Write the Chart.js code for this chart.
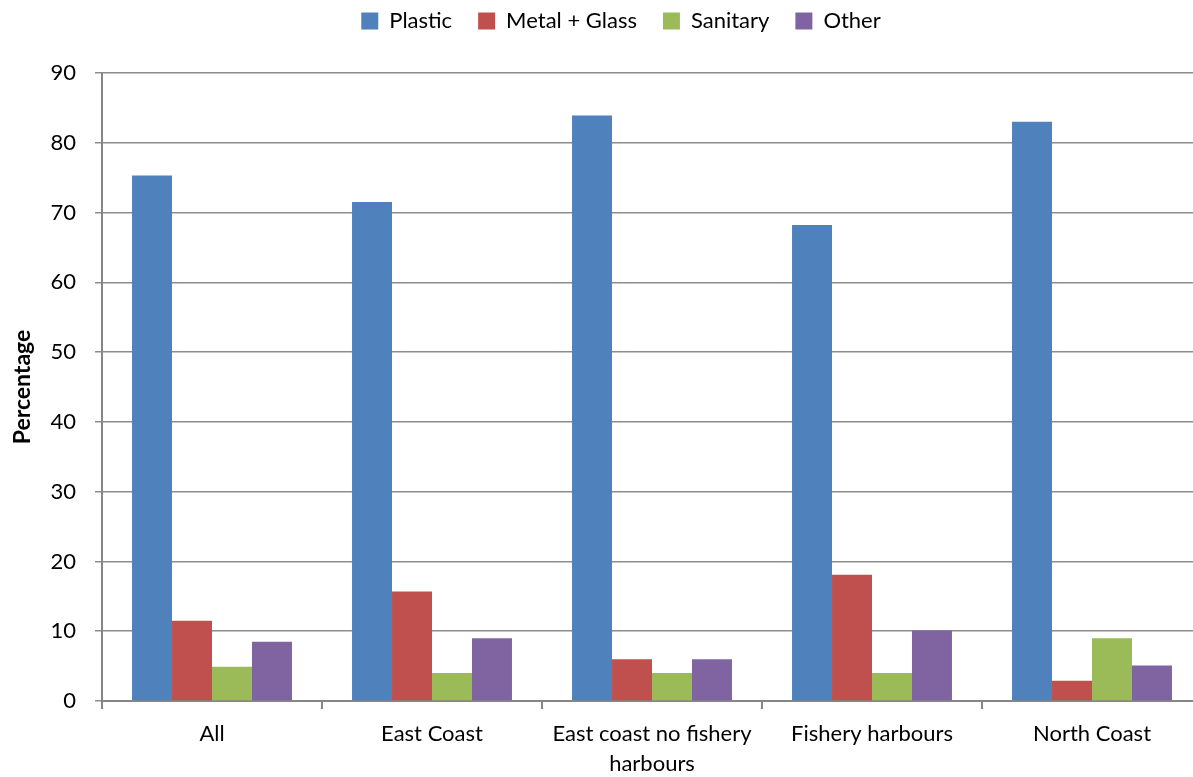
<!DOCTYPE html>
<html>
<head>
<meta charset="utf-8">
<script src="https://cdn.jsdelivr.net/npm/chart.js@4"></script>
<style>
  html, body { margin: 0; padding: 0; background: #fff; overflow: hidden; }
  #wrap { width: 1193px; height: 777px; overflow: hidden; position: relative; }
  canvas { display: block; }
</style>
</head>
<body>
<div id="wrap"><canvas id="c" width="1210" height="777"></canvas></div>
<script>
const categories = ["All", "East Coast", ["East coast no fishery", "harbours"], "Fishery harbours", "North Coast"];
const seriesNames = ["Plastic", "Metal + Glass", "Sanitary", "Other"];
const plastic = [75.3, 71.5, 83.9, 68.2, 83.0];
const metalGlass = [11.5, 15.7, 6.0, 18.1, 2.9];
const sanitary = [4.9, 4.0, 4.0, 4.0, 9.0];
const other = [8.5, 9.0, 6.0, 10.1, 5.1];
const yTicks = [0, 10, 20, 30, 40, 50, 60, 70, 80, 90];
const colors = ["#4F81BD", "#C0504D", "#9BBB59", "#8064A2"];

const FONT = "Lato, 'Open Sans', 'DejaVu Sans', sans-serif";
const seriesData = [plastic, metalGlass, sanitary, other];

const legendShift = {
  id: 'legendShift',
  beforeInit(chart) {
    const orig = chart.legend.fit;
    chart.legend.fit = function () { orig.call(this); this.height = 73; };
  },
  afterLayout(chart) {
    const d = 20;
    chart.legend.left += d; chart.legend.right += d;
    chart.legend.top -= 16; chart.legend.bottom -= 16;
  }
};

new Chart(document.getElementById('c'), {
  type: 'bar',
  data: {
    labels: categories,
    datasets: seriesNames.map((n, i) => ({
      label: n,
      data: seriesData[i],
      backgroundColor: colors[i],
      borderWidth: 0,
      categoryPercentage: 0.727,
      barPercentage: 1.0
    }))
  },
  options: {
    responsive: false,
    devicePixelRatio: 1,
    animation: false,
    layout: { padding: { left: 0, right: 8, top: 0, bottom: 0 } },
    plugins: {
      tooltip: { enabled: false },
      legend: {
        position: 'top',
        labels: {
          color: '#000',
          font: { family: FONT, size: 22 },
          boxWidth: 17, boxHeight: 17,
          padding: 26
        }
      }
    },
    scales: {
      x: {
        afterFit(s) { s.height = 76; },
        grid: { display: true, drawOnChartArea: false, drawTicks: true, tickLength: 8, color: '#868686', lineWidth: 2, offset: true },
        border: { color: '#868686', width: 2 },
        ticks: { color: '#000', font: { family: FONT, size: 22, lineHeight: 1.36 }, padding: 10, maxRotation: 0, autoSkip: false }
      },
      y: {
        min: 0, max: 90,
        afterFit(s) { s.width = 102; },
        afterBuildTicks(s) { s.ticks = yTicks.map(v => ({ value: v })); },
        grid: { color: '#8c8c8c', lineWidth: 1.5, tickLength: 7, drawTicks: true },
        border: { color: '#868686', width: 2 },
        title: { display: true, text: 'Percentage', color: '#000', font: { family: FONT, size: 23, weight: 'bold' }, padding: { top: 9, bottom: 0 } },
        ticks: { color: '#000', font: { family: FONT, size: 22 }, padding: 19 }
      }
    }
  },
  plugins: [legendShift]
});
</script>
</body>
</html>
